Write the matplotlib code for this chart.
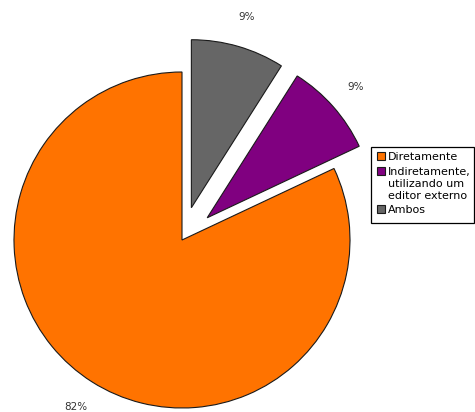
import matplotlib
matplotlib.use("Agg")
import matplotlib.pyplot as plt
from matplotlib.patches import Rectangle

labels = ["Diretamente", "Indiretamente,\nutilizando um\neditor externo", "Ambos"]
values = [82, 9, 9]
colors = ["#ff7300", "#800080", "#666666"]
explode = [0.0, 0.2, 0.2]

W, H, dpi = 475, 412, 100
fig = plt.figure(figsize=(W / dpi, H / dpi), dpi=dpi)
ax = fig.add_axes([0, 0, 1, 1])

# pie geometry in pixels
r_px = 168.0
cx, cy = 182.0, H - 240.0

wedges, texts, autotexts = ax.pie(
    values, colors=colors, explode=explode, startangle=90, counterclock=True,
    autopct="%d%%", pctdistance=1.18, radius=1.0, frame=True,
    wedgeprops=dict(edgecolor="#1a1a1a", linewidth=0.8),
    textprops=dict(fontsize=7.5, color="#333333"),
)
ax.set_xlim(-cx / r_px, (W - cx) / r_px)
ax.set_ylim(-cy / r_px, (H - cy) / r_px)
ax.set_aspect("auto")
ax.axis("off")


def fx(px):
    return px / W


def fy(py):
    return 1 - py / H


# legend box, drawn in figure pixel positions
box_l, box_t, box_r, box_b = 371, 147, 474, 223
fig.patches.append(Rectangle((fx(box_l), fy(box_b)), fx(box_r - box_l), (box_b - box_t) / H,
                             transform=fig.transFigure, facecolor="white",
                             edgecolor="black", linewidth=0.9, zorder=5))

line_h = 12.0
entry_gap = 2.5
sq = 8
y = 157.0
for lab, col in zip(labels, colors):
    fig.patches.append(Rectangle((fx(377), fy(y - 1 + sq / 2)), fx(sq), sq / H,
                                 transform=fig.transFigure, facecolor=col,
                                 edgecolor="#1a1a1a", linewidth=0.8, zorder=6))
    for line in lab.split("\n"):
        fig.text(fx(388), fy(y), line, fontsize=8, color="black",
                 ha="left", va="center", zorder=7, transform=fig.transFigure)
        y += line_h
    y += entry_gap

fig.savefig("out.png", dpi=dpi)
